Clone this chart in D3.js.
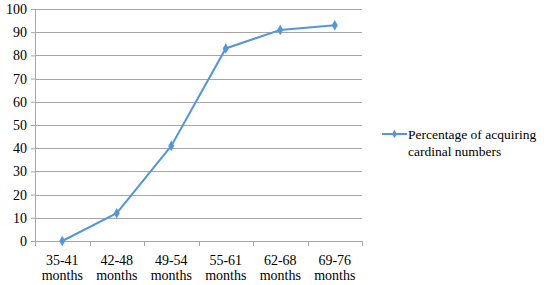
<!DOCTYPE html>
<html>
<head>
<meta charset="utf-8">
<script src="https://cdnjs.cloudflare.com/ajax/libs/d3/7.8.4/d3.min.js"></script>
<style>
body { margin: 0; background: #fff; }
</style>
</head>
<body>
<div id="chart"></div>
<script>
// data
const categories = ["35-41 months", "42-48 months", "49-54 months", "55-61 months", "62-68 months", "69-76 months"];
const values = [0, 12, 41, 83, 91, 93];
const yTicks = [0, 10, 20, 30, 40, 50, 60, 70, 80, 90, 100];
const seriesName = ["Percentage of acquiring", "cardinal numbers"];

const W = 547, H = 285;
const margin = {top: 9, right: 185, bottom: 44, left: 35};
const width = W - margin.left - margin.right,
      height = H - margin.top - margin.bottom;
const lineColor = "#5596d8";
const FONT = "\"Liberation Serif\"";

const svg = d3.select("#chart").append("svg")
  .attr("width", W).attr("height", H)
  .style("font-family", FONT);
const g = svg.append("g").attr("transform", `translate(${margin.left},${margin.top})`);

const x = d3.scaleBand().domain(categories).range([0, width]);
const y = d3.scaleLinear().domain([0, 100]).range([height, 0]);

// gridlines
g.append("g").selectAll("line").data(yTicks).join("line")
  .attr("x1", 0).attr("x2", width)
  .attr("y1", d => Math.round(y(d)) + 0.5).attr("y2", d => Math.round(y(d)) + 0.5)
  .attr("stroke", "#a6a6a6").attr("stroke-width", 1);

// y axis
const yAxis = g.append("g").call(d3.axisLeft(y).tickValues(yTicks).tickSize(4).tickPadding(4));
yAxis.attr("font-family", null).attr("font-size", null);
yAxis.select(".domain").attr("stroke", "#a6a6a6");
yAxis.selectAll(".tick line").attr("stroke", "#a6a6a6");
yAxis.selectAll("text").style("font-family", FONT).style("font-size", "14px").attr("fill", "#000");

// x axis with ticks at band boundaries
const xAxis = g.append("g").attr("transform", `translate(0,${height})`);
xAxis.append("line").attr("x1", 0).attr("x2", width).attr("y1", 0.5).attr("y2", 0.5).attr("stroke", "#a6a6a6");
const bounds = categories.map(c => x(c)).concat([width]);
xAxis.selectAll(".bt").data(bounds).join("line").attr("class", "bt")
  .attr("x1", d => Math.round(d) + 0.5).attr("x2", d => Math.round(d) + 0.5)
  .attr("y1", 0).attr("y2", 5).attr("stroke", "#a6a6a6");
xAxis.selectAll(".lab").data(categories).join("text").attr("class", "lab")
  .attr("text-anchor", "middle")
  .attr("transform", d => `translate(${x(d) + x.bandwidth() / 2},0)`)
  .style("font-family", FONT).style("font-size", "14px")
  .each(function(d) {
    const parts = d.split(" ");
    d3.select(this).selectAll("tspan").data(parts).join("tspan")
      .attr("x", 0).attr("y", (p, i) => 24 + i * 15).text(p => p);
  });

// line
const line = d3.line().x((d, i) => x(categories[i]) + x.bandwidth() / 2).y(d => y(d));
g.append("path").datum(values).attr("d", line)
  .attr("fill", "none").attr("stroke", lineColor).attr("stroke-width", 2);

const diamond = d3.symbol().type(d3.symbolDiamond).size(32);
g.selectAll(".pt").data(values).join("path").attr("class", "pt")
  .attr("d", diamond)
  .attr("transform", (d, i) => `translate(${x(categories[i]) + x.bandwidth() / 2},${y(d)})`)
  .attr("fill", lineColor);

// legend
const lg = svg.append("g").attr("transform", "translate(382,134)");
lg.append("line").attr("x1", 0).attr("x2", 25).attr("y1", 0).attr("y2", 0)
  .attr("stroke", lineColor).attr("stroke-width", 2);
lg.append("path").attr("d", d3.symbol().type(d3.symbolDiamond).size(22))
  .attr("transform", "translate(12.5,0)").attr("fill", lineColor);
lg.append("text").attr("x", 26).attr("y", 5).style("font-family", FONT).style("font-size", "13.5px").text(seriesName[0]);
lg.append("text").attr("x", 26).attr("y", 22).style("font-family", FONT).style("font-size", "13.5px").text(seriesName[1]);
</script>
</body>
</html>
